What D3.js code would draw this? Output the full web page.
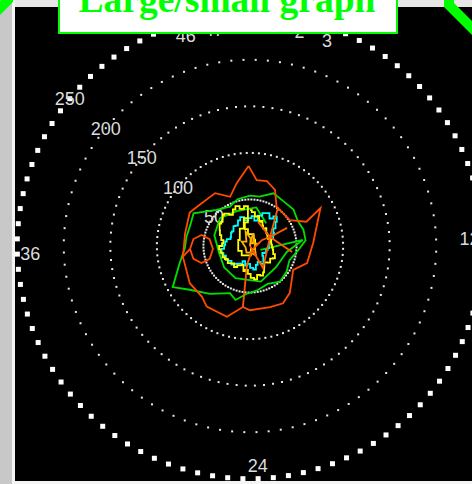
<!DOCTYPE html>
<html>
<head>
<meta charset="utf-8">
<script src="https://cdn.jsdelivr.net/npm/d3@7"></script>
<style>
  html, body { margin: 0; padding: 0; background: #c8c8c8; overflow: hidden; }
  svg { display: block; }
</style>
</head>
<body>
<svg id="chart" width="472" height="484"></svg>
<script>
// ---- data ----
const ringValues = [50, 100, 150, 200];
const outerValue = 250;
const ringLabels = ["50", "100", "150", "200", "250"];
const hourLabels = [2, 3, 12, 24, 36, 46, 47];
const titleText = "Large/small graph";

// each trace: [half-hour index (0-48), value]
const orangeMain = [
  [0.13, 86], [1.04, 71], [2.21, 72], [3.47, 66], [4.8, 51], [7.87, 51], [9.17, 66],
  [8.49, 86], [11.87, 68], [14.49, 64], [16.13, 53], [18.88, 66], [20.27, 71],
  [21.84, 69], [24.27, 69], [25.15, 66], [26.67, 80], [29, 80], [30.08, 75],
  [32.04, 76], [35.07, 73], [35.88, 64.5], [37.2, 61.2], [37.97, 53.4], [37.56, 44],
  [35.65, 39.9], [33.91, 45.5], [33.69, 55.2], [34.56, 62.3], [35.88, 64.5],
  [35.07, 73], [37.73, 71], [40.13, 74], [41.47, 70], [43.81, 68], [45.33, 57],
  [46.67, 69], [48.13, 86]
];
const orangeInner = [
  [25.15, 65.8], [25.24, 42.4], [25.47, 20.7], [20.67, 4.8], [8.72, 14.5], [9.04, 23.6],
  [8.8, 44.3], [9.04, 23.6], [5.03, 51.7], [9.04, 23.6], [2.72, 27.3], [9.04, 23.6],
  [13.33, 45.7], [9.04, 23.6], [20.19, 27.5], [0, 0]
];
const greenTrace = [
  [0.27, 54], [1.73, 54], [3.47, 62], [5.2, 60], [6.93, 61], [8.53, 58], [10, 60],
  [11.47, 60], [12.93, 52], [14.93, 45], [16.93, 48], [18.93, 50], [20.93, 45],
  [22.93, 48], [24.93, 52], [26.27, 60], [27.33, 55], [29.6, 67], [31.47, 80],
  [32.53, 94], [34.4, 78], [36, 70], [37.33, 69], [38.93, 68], [40.27, 70],
  [42.53, 53], [44.67, 47.5], [46.27, 52], [48.27, 54]
];
const greenInner = [
  [14.93, 12], [11.4, 57], [13.5, 40], [17.5, 36], [22, 40], [27.5, 38], [31, 36],
  [34.5, 34], [38.5, 40], [42, 44], [45.5, 40], [1.5, 42], [5, 30]
];
const yellowTrace = [
  [0.27, 38.6], [1.07, 36.5], [1.87, 32.2], [2.4, 33.3], [3.2, 27.9], [3.73, 30],
  [4.53, 25.8], [5.33, 23.6], [6.13, 26.8], [6.93, 21.5], [8, 23.6], [8.8, 19.3],
  [9.6, 22.5], [10.67, 24.7], [11.73, 21.5], [12.8, 25.8], [13.6, 23.6], [14.67, 27.9],
  [15.73, 30], [16.53, 25.8], [17.6, 27.9], [18.67, 23.6], [19.73, 26.8], [20.53, 32.2],
  [21.33, 34.4], [22.13, 32.2], [22.93, 36.5], [23.73, 34.4], [24.53, 30], [25.33, 25.8],
  [26.13, 27.9], [26.93, 21.5], [28, 23.6], [29.07, 27.9], [30.13, 25.8], [31.2, 30],
  [32.27, 27.9], [33.33, 32.2], [34.4, 30], [35.47, 34.4], [36.27, 32.2], [37.07, 27.9],
  [37.87, 30], [38.93, 34.4], [40, 36.5], [41.07, 40.8], [41.87, 38.6], [42.67, 45.1],
  [43.47, 42.9], [44.27, 38.6], [45.07, 42.9], [45.87, 45.1], [46.67, 40.8], [47.47, 42.9],
  [48.27, 38.6], [46.93, 25.8], [45.6, 19.3], [1.6, 12.9], [5.6, 8.6], [16.27, 6.4],
  [26.93, 10.7], [33.6, 15], [40.27, 12.9], [44.27, 21.5], [47.6, 30]
];
const cyanTrace = [
  [0.27, 30], [1.07, 32.2], [1.87, 27.9], [2.67, 34.4], [3.47, 38.6], [4.27, 40.8],
  [5.07, 36.5], [5.87, 42.9], [6.67, 38.6], [7.47, 32.2], [8.27, 27.9], [9.07, 30],
  [9.87, 23.6], [10.93, 21.5], [12, 19.3], [13.07, 21.5], [14.13, 17.2], [15.2, 19.3],
  [16.27, 15], [17.33, 17.2], [18.4, 21.5], [19.47, 23.6], [20.53, 19.3], [21.6, 21.5],
  [22.67, 25.8], [23.73, 23.6], [24.8, 19.3], [25.87, 21.5], [26.93, 17.2], [28, 21.5],
  [29.07, 23.6], [30.13, 27.9], [31.2, 25.8], [32.27, 30], [33.33, 27.9], [34.4, 32.2],
  [35.47, 30], [36.53, 25.8], [37.6, 27.9], [38.67, 23.6], [39.73, 21.5], [40.8, 25.8],
  [41.87, 23.6], [42.93, 27.9], [44, 25.8], [45.07, 30], [46.13, 32.2], [47.2, 27.9],
  [48.27, 30]
];
const goldTrace = [
  [0, 0], [2, 14], [4.5, 9], [6, 4], [10, 9], [13, 5], [20, 12], [24, 7], [28, 8],
  [34, 5], [40, 10], [43, 6], [46, 16], [1, 8], [0, 0]
];

// the finely sampled traces are drawn as pixel steps
const traces = [
  { data: greenTrace,  color: "#00e000", step: false },
  { data: greenInner,  color: "#00e000", step: false },
  { data: orangeMain,  color: "#ff4a00", step: false },
  { data: cyanTrace,   color: "#00ffff", step: true },
  { data: yellowTrace, color: "#ffff00", step: true },
  { data: goldTrace,   color: "#ffb000", step: false },
  { data: orangeInner, color: "#ff5a00", step: false }
];

// ---- layout ----
const W = 472, H = 484;
const cx = 250, cy = 246;
const rot = -2 * Math.PI / 180;

const svg = d3.select("#chart");

// window frame
svg.append("rect").attr("x", 0).attr("y", 0).attr("width", W).attr("height", H).attr("fill", "#c8c8c8");
svg.append("rect").attr("x", 12).attr("y", 0).attr("width", W - 12).attr("height", 7).attr("fill", "#e6e6e6");
svg.append("rect").attr("x", 12).attr("y", 0).attr("width", 3).attr("height", H).attr("fill", "#f4f4f4");
svg.append("rect").attr("x", 12).attr("y", 481).attr("width", W - 12).attr("height", 3).attr("fill", "#f4f4f4");
svg.append("rect").attr("x", 15).attr("y", 7).attr("width", W - 15).attr("height", 474).attr("fill", "#000");

const r = d3.scaleLinear().domain([0, outerValue]).range([0, 232.8]);
const angle = d3.scaleLinear().domain([0, 48]).range([rot, rot + 2 * Math.PI]);

const g = svg.append("g").attr("transform", `translate(${cx},${cy})`);

// dotted rings
const dotIdx = d3.range(96);
ringValues.forEach(v => {
  g.append("g").selectAll("rect").data(dotIdx).join("rect")
    .each(function (i) {
      const [x, y] = d3.pointRadial(angle(i / 2), r(v));
      d3.select(this).attr("x", x - 1).attr("y", y - 1);
    })
    .attr("width", 2).attr("height", 2).attr("fill", "#e8e8e8");
});
g.append("g").selectAll("rect").data(dotIdx).join("rect")
  .each(function (i) {
    const [x, y] = d3.pointRadial(angle(i / 2), r(outerValue));
    d3.select(this).attr("x", x - 2.5).attr("y", y - 2.5);
  })
  .attr("width", 5).attr("height", 5).attr("fill", "#ffffff");

// ring value labels
const labelAngle = angle(41.5);
g.append("g").selectAll("text").data(ringValues.concat([outerValue])).join("text")
  .attr("x", v => d3.pointRadial(labelAngle, r(v))[0])
  .attr("y", v => d3.pointRadial(labelAngle, r(v))[1])
  .attr("dy", "0.36em")
  .attr("text-anchor", "middle")
  .attr("font-family", "Liberation Sans, Arial, sans-serif")
  .attr("font-size", 18)
  .attr("fill", "#dcdcdc")
  .text((v, i) => ringLabels[i]);

// half-hour labels
g.append("g").selectAll("text").data(hourLabels).join("text")
  .attr("x", k => d3.pointRadial(angle(k), r(236))[0])
  .attr("y", k => d3.pointRadial(angle(k), r(236))[1])
  .attr("dy", "0.36em")
  .attr("text-anchor", "middle")
  .attr("font-family", "Liberation Sans, Arial, sans-serif")
  .attr("font-size", 18)
  .attr("fill", "#dcdcdc")
  .text(k => k);

// traces
const line = d3.lineRadial()
  .angle(d => angle(d[0]))
  .radius(d => r(d[1]));
const stepLine = d3.lineRadial()
  .angle(d => angle(d[0]))
  .radius(d => r(d[1]))
  .curve(d3.curveStep);
g.append("g").selectAll("path").data(traces).join("path")
  .attr("d", d => (d.step ? stepLine : line)(d.data))
  .attr("fill", "none")
  .attr("stroke", d => d.color)
  .attr("stroke-width", 1.8)
  .attr("stroke-linejoin", "miter");

// title box
svg.append("rect").attr("x", 59).attr("y", -10).attr("width", 338).attr("height", 43)
  .attr("fill", "#ffffff").attr("stroke", "#00ff00").attr("stroke-width", 2);
svg.append("text").attr("x", 227).attr("y", 12)
  .attr("text-anchor", "middle")
  .attr("font-family", "Liberation Serif, Times New Roman, serif")
  .attr("font-weight", "bold")
  .attr("font-size", 37.5)
  .attr("fill", "#00ff00")
  .text(titleText);

// green frame corners
svg.append("path").attr("d", "M8,-20 L8,0 L-20,28")
  .attr("fill", "none").attr("stroke", "#00ff00").attr("stroke-width", 10);
svg.append("path").attr("d", "M449,-20 L449,5 L482,38")
  .attr("fill", "none").attr("stroke", "#00ff00").attr("stroke-width", 10);
</script>
</body>
</html>
